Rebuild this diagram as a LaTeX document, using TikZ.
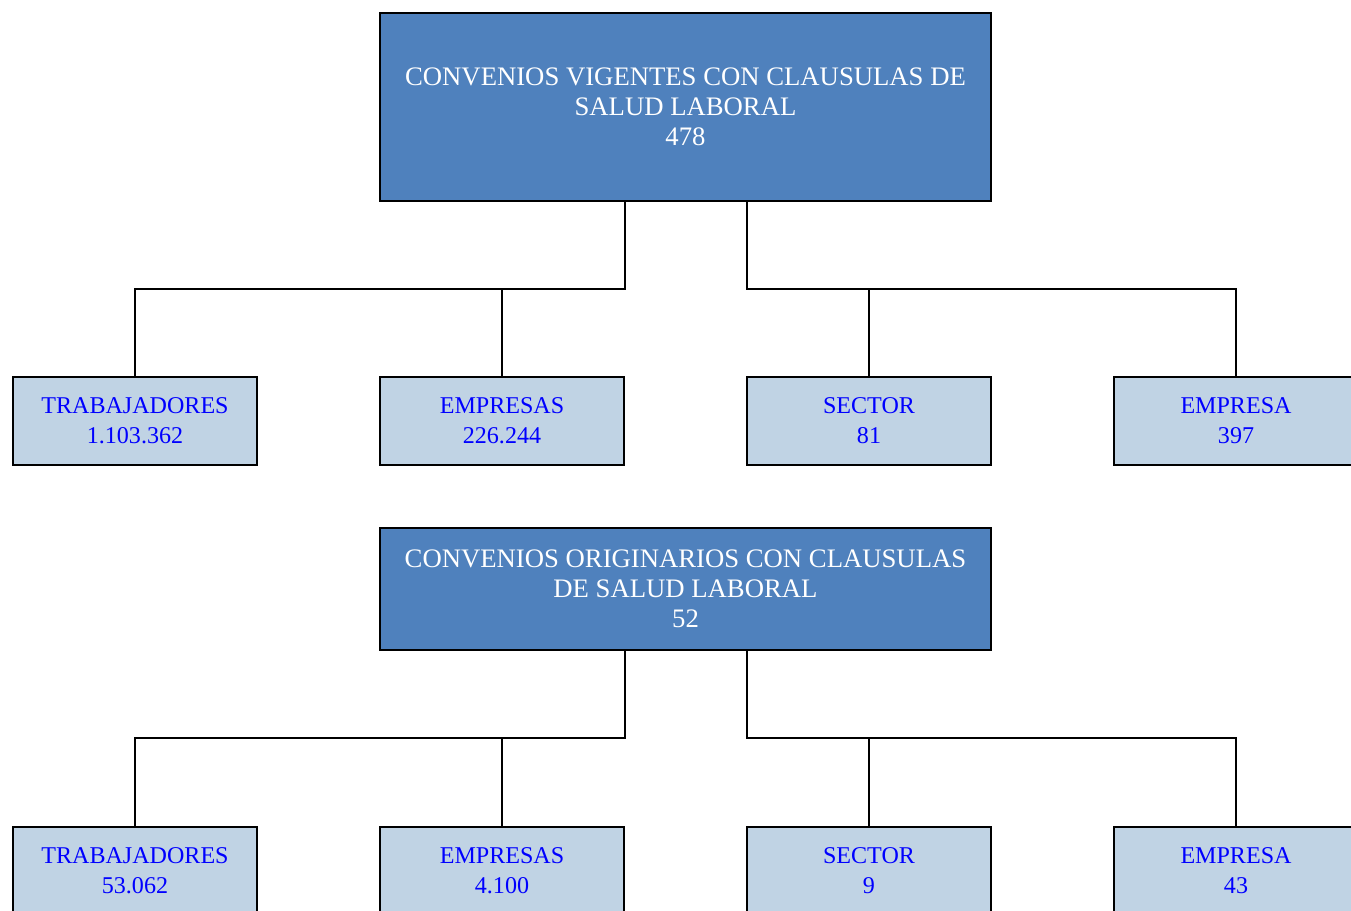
\documentclass[tikz,border=0pt]{standalone}
\usepackage{fontspec}
\setmainfont{Liberation Serif}
\definecolor{bigblue}{RGB}{79,129,189}
\definecolor{smallblue}{RGB}{192,211,228}
\definecolor{txtblue}{RGB}{0,0,255}
\tikzset{
  bigbox/.style={draw=black, line width=0.9pt, fill=bigblue, text=white, align=center,
    minimum width=12.22cm, inner sep=0pt, font=\fontsize{15.2}{17}\selectfont},
  smallbox/.style={draw=black, line width=0.9pt, fill=smallblue, text=txtblue, align=center,
    minimum width=4.88cm, minimum height=1.76cm, inner sep=0pt, font=\fontsize{13.7}{17}\selectfont},
  conn/.style={draw=black, line width=0.75pt}
}
\begin{document}
\begin{tikzpicture}[x=0.02cm, y=-0.02cm]
\useasboundingbox (0,0) rectangle (1351,911);
\clip (0,0) rectangle (1351,911);
% section 1
\node[bigbox, minimum height=3.76cm] (top1) at (685.5,107) {CONVENIOS VIGENTES CON CLAUSULAS DE\\SALUD LABORAL\\478};
\node[smallbox] (t1) at (135,421) {TRABAJADORES\\1.103.362};
\node[smallbox] (e1) at (502,421) {EMPRESAS\\226.244};
\node[smallbox] (s1) at (869,421) {SECTOR\\81};
\node[smallbox] (m1) at (1236,421) {EMPRESA\\397};
\coordinate (ja1) at (625,289);
\coordinate (jb1) at (747,289);
\draw[conn] (top1.south -| ja1) -- (ja1) -| (t1.north);
\draw[conn] (e1.north) -- (e1.north |- ja1);
\draw[conn] (top1.south -| jb1) -- (jb1) -| (m1.north);
\draw[conn] (s1.north) -- (s1.north |- jb1);
% section 2
\node[bigbox, minimum height=2.44cm] (top2) at (685.5,589) {CONVENIOS ORIGINARIOS CON CLAUSULAS\\DE SALUD LABORAL\\52};
\node[smallbox] (t2) at (135,871) {TRABAJADORES\\53.062};
\node[smallbox] (e2) at (502,871) {EMPRESAS\\4.100};
\node[smallbox] (s2) at (869,871) {SECTOR\\9};
\node[smallbox] (m2) at (1236,871) {EMPRESA\\43};
\coordinate (ja2) at (625,738);
\coordinate (jb2) at (747,738);
\draw[conn] (top2.south -| ja2) -- (ja2) -| (t2.north);
\draw[conn] (e2.north) -- (e2.north |- ja2);
\draw[conn] (top2.south -| jb2) -- (jb2) -| (m2.north);
\draw[conn] (s2.north) -- (s2.north |- jb2);
\end{tikzpicture}
\end{document}
